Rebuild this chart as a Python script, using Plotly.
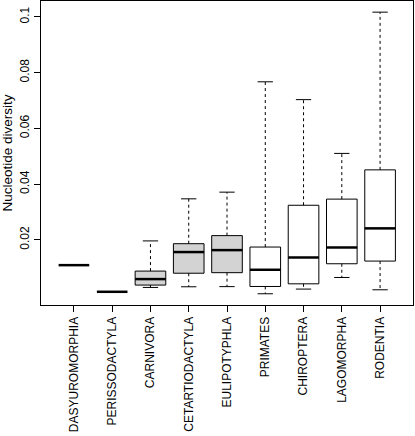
import plotly.graph_objects as go

categories = ["DASYUROMORPHIA", "PERISSODACTYLA", "CARNIVORA", "CETARTIODACTYLA",
              "EULIPOTYPHLA", "PRIMATES", "CHIROPTERA", "LAGOMORPHA", "RODENTIA"]
lower_whisker = [0.0109, 0.00134, 0.0029, 0.00314, 0.0032, 0.00063, 0.00231, 0.00648, 0.00206]
q1_values     = [0.0109, 0.00134, 0.00375, 0.0080, 0.0082, 0.00325, 0.0042, 0.0114, 0.01236]
medians       = [0.0109, 0.00134, 0.0059, 0.0156, 0.0163, 0.00924, 0.01365, 0.01724, 0.0241]
q3_values     = [0.0109, 0.00134, 0.00877, 0.0186, 0.0215, 0.0174, 0.0324, 0.0346, 0.0451]
upper_whisker = [0.0109, 0.00134, 0.0196, 0.0347, 0.0371, 0.0767, 0.0703, 0.051, 0.1017]
shaded        = [False, False, True, True, True, False, False, False, False]
y_ticks = [0.02, 0.04, 0.06, 0.08, 0.1]
y_tick_labels = ["0.02", "0.04", "0.06", "0.08", "0.1"]

BOX_W = 0.8
CAP_W = 0.4
FONT = "Liberation Sans, Arial, Helvetica, sans-serif"

fig = go.Figure()
positions = list(range(1, len(categories) + 1))

for i, p in enumerate(positions):
    fill = "#D3D3D3" if shaded[i] else "white"
    # dashed whiskers
    fig.add_trace(go.Scatter(
        x=[p, p, None, p, p],
        y=[q3_values[i], upper_whisker[i], None, q1_values[i], lower_whisker[i]],
        mode="lines", line=dict(color="black", width=1, dash="3px,3px"),
        hoverinfo="skip", showlegend=False))
    # staples
    fig.add_trace(go.Scatter(
        x=[p - CAP_W / 2, p + CAP_W / 2, None, p - CAP_W / 2, p + CAP_W / 2],
        y=[upper_whisker[i], upper_whisker[i], None, lower_whisker[i], lower_whisker[i]],
        mode="lines", line=dict(color="black", width=1),
        hoverinfo="skip", showlegend=False))
    if q3_values[i] > q1_values[i]:
        fig.add_trace(go.Box(
            x=[p], q1=[q1_values[i]], median=[medians[i]], q3=[q3_values[i]],
            lowerfence=[q1_values[i]], upperfence=[q3_values[i]],
            width=BOX_W, whiskerwidth=0, fillcolor=fill,
            line=dict(color="black", width=1), boxpoints=False,
            hoverinfo="skip", showlegend=False))
    # thick median
    fig.add_trace(go.Scatter(
        x=[p - BOX_W / 2, p + BOX_W / 2], y=[medians[i], medians[i]],
        mode="lines", line=dict(color="black", width=2.5),
        hoverinfo="skip", showlegend=False))

fig.update_layout(
    width=415, height=436,
    margin=dict(l=41, r=2, t=1, b=131),
    paper_bgcolor="white", plot_bgcolor="white",
    font=dict(family=FONT, size=12, color="black"),
    showlegend=False,
    hovermode=False,
    xaxis=dict(
        range=[0.14, 9.86], tickvals=positions, ticktext=categories,
        tickangle=-90, ticks="outside", ticklen=6, tickcolor="black",
        showgrid=False, zeroline=False, showline=True, linecolor="black",
        linewidth=1, mirror=True, tickfont=dict(size=12), automargin=False),
    yaxis=dict(
        range=[-0.0034, 0.1057], tickvals=y_ticks, ticktext=y_tick_labels,
        tickangle=-90, ticks="outside", ticklen=6, tickcolor="black",
        showgrid=False, zeroline=False, showline=True, linecolor="black",
        linewidth=1, mirror=True, tickfont=dict(size=12), automargin=False,
        title=dict(text="Nucleotide diversity", font=dict(size=13.5), standoff=5)),
)

fig.write_html("out.html",
               config={"displayModeBar": False, "staticPlot": True},
               post_script="document.body.style.margin='0';document.body.style.padding='0';")
